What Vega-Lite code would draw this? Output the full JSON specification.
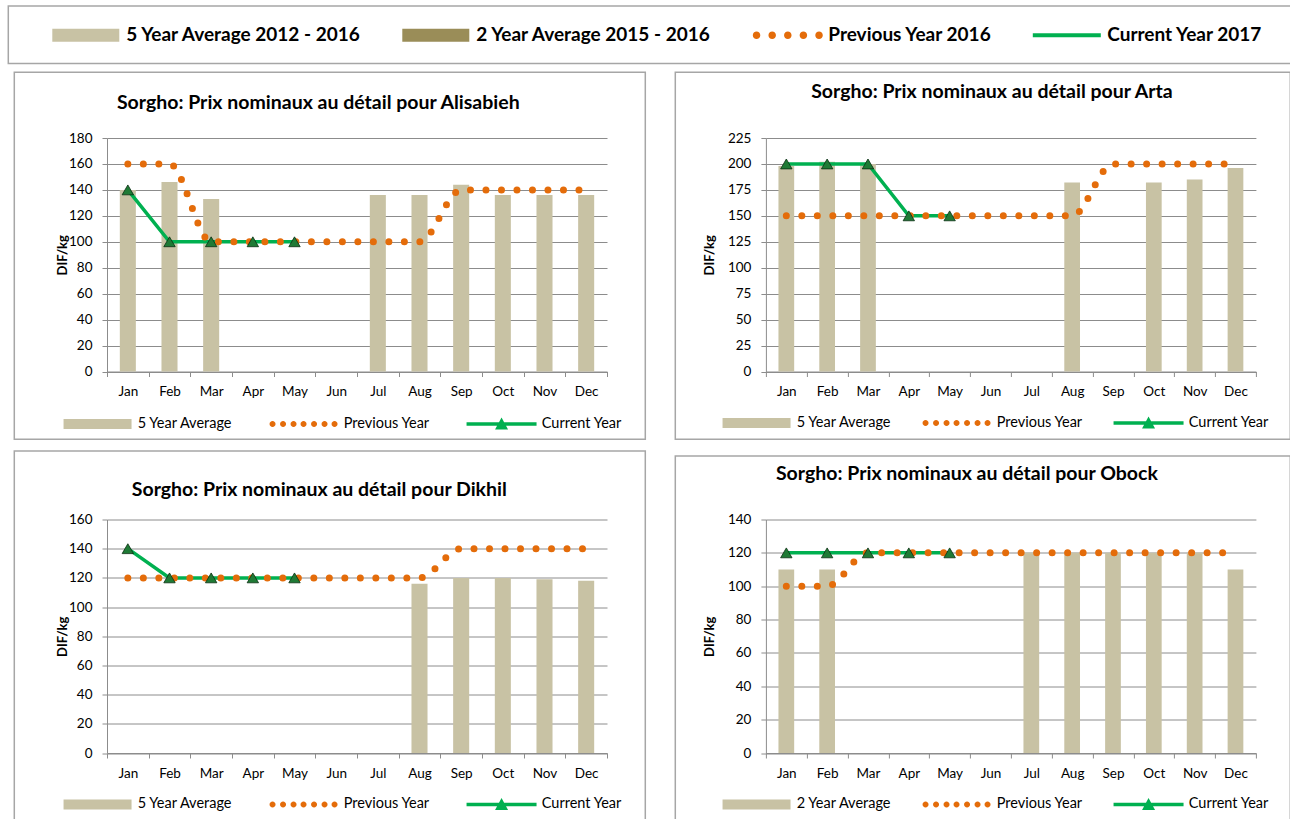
{
  "$schema": "https://vega.github.io/schema/vega-lite/v6.json",
  "autosize": {"type": "pad"},
  "padding": {"left": 3, "top": 1, "right": 0, "bottom": 0},
  "background": "white",
  "config": {
    "view": {"stroke": null},
    "font": "Lato",
    "axis": {"labelFont": "Lato", "labelFontSize": 13.5, "labelColor": "#000000", "titleColor": "#000000", "titleFont": "Lato", "domainColor": "#8C8C8C", "tickColor": "#8C8C8C", "gridColor": "#8C8C8C", "tickSize": 5, "labelOverlap": false},
    "legend": {"labelFont": "Lato", "labelColor": "#000000", "labelLimit": 600, "padding": 0, "symbolStrokeWidth": 0, "symbolOpacity": 1}
  },
  "datasets": {
    "prices": [
      {"region": "Alisabieh", "month": "Jan", "avg": 140, "prev": 160, "cur": 140},
      {"region": "Alisabieh", "month": "Feb", "avg": 146, "prev": 160, "cur": 100},
      {"region": "Alisabieh", "month": "Mar", "avg": 133, "prev": 100, "cur": 100},
      {"region": "Alisabieh", "month": "Apr", "avg": null, "prev": 100, "cur": 100},
      {"region": "Alisabieh", "month": "May", "avg": null, "prev": 100, "cur": 100},
      {"region": "Alisabieh", "month": "Jun", "avg": null, "prev": 100, "cur": null},
      {"region": "Alisabieh", "month": "Jul", "avg": 136, "prev": 100, "cur": null},
      {"region": "Alisabieh", "month": "Aug", "avg": 136, "prev": 100, "cur": null},
      {"region": "Alisabieh", "month": "Sep", "avg": 144, "prev": 140, "cur": null},
      {"region": "Alisabieh", "month": "Oct", "avg": 136, "prev": 140, "cur": null},
      {"region": "Alisabieh", "month": "Nov", "avg": 136, "prev": 140, "cur": null},
      {"region": "Alisabieh", "month": "Dec", "avg": 136, "prev": 140, "cur": null},
      {"region": "Arta", "month": "Jan", "avg": 198, "prev": 150, "cur": 200},
      {"region": "Arta", "month": "Feb", "avg": 202, "prev": 150, "cur": 200},
      {"region": "Arta", "month": "Mar", "avg": 200, "prev": 150, "cur": 200},
      {"region": "Arta", "month": "Apr", "avg": null, "prev": 150, "cur": 150},
      {"region": "Arta", "month": "May", "avg": null, "prev": 150, "cur": 150},
      {"region": "Arta", "month": "Jun", "avg": null, "prev": 150, "cur": null},
      {"region": "Arta", "month": "Jul", "avg": null, "prev": 150, "cur": null},
      {"region": "Arta", "month": "Aug", "avg": 182, "prev": 150, "cur": null},
      {"region": "Arta", "month": "Sep", "avg": null, "prev": 200, "cur": null},
      {"region": "Arta", "month": "Oct", "avg": 182, "prev": 200, "cur": null},
      {"region": "Arta", "month": "Nov", "avg": 185, "prev": 200, "cur": null},
      {"region": "Arta", "month": "Dec", "avg": 196, "prev": 200, "cur": null},
      {"region": "Dikhil", "month": "Jan", "avg": null, "prev": 120, "cur": 140},
      {"region": "Dikhil", "month": "Feb", "avg": null, "prev": 120, "cur": 120},
      {"region": "Dikhil", "month": "Mar", "avg": null, "prev": 120, "cur": 120},
      {"region": "Dikhil", "month": "Apr", "avg": null, "prev": 120, "cur": 120},
      {"region": "Dikhil", "month": "May", "avg": null, "prev": 120, "cur": 120},
      {"region": "Dikhil", "month": "Jun", "avg": null, "prev": 120, "cur": null},
      {"region": "Dikhil", "month": "Jul", "avg": null, "prev": 120, "cur": null},
      {"region": "Dikhil", "month": "Aug", "avg": 116, "prev": 120, "cur": null},
      {"region": "Dikhil", "month": "Sep", "avg": 120, "prev": 140, "cur": null},
      {"region": "Dikhil", "month": "Oct", "avg": 120, "prev": 140, "cur": null},
      {"region": "Dikhil", "month": "Nov", "avg": 119, "prev": 140, "cur": null},
      {"region": "Dikhil", "month": "Dec", "avg": 118, "prev": 140, "cur": null},
      {"region": "Obock", "month": "Jan", "avg": 110, "prev": 100, "cur": 120},
      {"region": "Obock", "month": "Feb", "avg": 110, "prev": 100, "cur": 120},
      {"region": "Obock", "month": "Mar", "avg": null, "prev": 120, "cur": 120},
      {"region": "Obock", "month": "Apr", "avg": null, "prev": 120, "cur": 120},
      {"region": "Obock", "month": "May", "avg": null, "prev": 120, "cur": 120},
      {"region": "Obock", "month": "Jun", "avg": null, "prev": 120, "cur": null},
      {"region": "Obock", "month": "Jul", "avg": 120, "prev": 120, "cur": null},
      {"region": "Obock", "month": "Aug", "avg": 120, "prev": 120, "cur": null},
      {"region": "Obock", "month": "Sep", "avg": 120, "prev": 120, "cur": null},
      {"region": "Obock", "month": "Oct", "avg": 120, "prev": 120, "cur": null},
      {"region": "Obock", "month": "Nov", "avg": 120, "prev": 120, "cur": null},
      {"region": "Obock", "month": "Dec", "avg": 110, "prev": 120, "cur": null}
    ]
  },
  "vconcat": [
    {
      "width": 1, "height": 1,
      "data": {"values": [{"a": 1}]},
      "layer": [
        {
          "mark": {"type": "point", "filled": true, "opacity": 1, "size": 4},
          "transform": [{"filter": "false"}],
          "encoding": {
            "color": {"field": "series", "type": "nominal",
              "scale": {"domain": ["5 Year Average 2012 - 2016", "2 Year Average 2015 - 2016", "Previous Year 2016", "Current Year 2017"], "range": ["#C8C2A4", "#9A8D58", "#E46C0A", "#00B050"]},
              "legend": {"orient": "none", "legendX": -30.7, "legendY": 19.5, "direction": "horizontal", "title": null, "symbolSize": 4, "labelOffset": 31, "columnPadding": 40, "labelFontSize": 19, "labelFontWeight": "bold"}},
            "shape": {"field": "series", "type": "nominal",
              "scale": {"domain": ["5 Year Average 2012 - 2016", "2 Year Average 2015 - 2016", "Previous Year 2016", "Current Year 2017"],
                "range": ["M-33.5,-6.5H33.5V6.5H-33.5Z", "M-33.5,-6.5H33.5V6.5H-33.5Z",
                  "M-35,0a3.75,3.75 0 1,0 7.5,0a3.75,3.75 0 1,0 -7.5,0M-19.35,0a3.75,3.75 0 1,0 7.5,0a3.75,3.75 0 1,0 -7.5,0M-3.75,0a3.75,3.75 0 1,0 7.5,0a3.75,3.75 0 1,0 -7.5,0M11.85,0a3.75,3.75 0 1,0 7.5,0a3.75,3.75 0 1,0 -7.5,0M27.5,0a3.75,3.75 0 1,0 7.5,0a3.75,3.75 0 1,0 -7.5,0",
                  "M-34,-2H34V2H-34Z"]}}
          }
        },
        {
          "mark": {"type": "point", "filled": false, "color": "#A6A6A6", "strokeWidth": 1.5, "opacity": 1, "size": 4},
          "transform": [{"filter": "false"}],
          "encoding": {
            "shape": {"field": "box", "type": "nominal", "scale": {"domain": ["box"], "range": ["M0,0H1300V57.5H0Z"]},
              "legend": {"orient": "none", "legendX": -103.7, "legendY": -5, "title": null, "symbolSize": 4, "labelExpr": "''", "symbolStrokeColor": "#A6A6A6", "symbolFillColor": "transparent", "symbolStrokeWidth": 1.5}}
          }
        }
      ],
      "resolve": {"scale": {"shape": "independent", "color": "independent"}}
    },
    {
      "vconcat": [
        {
          "hconcat": [
            {
              "width": 500, "height": 233.5,
              "title": {"text": "Sorgho: Prix nominaux au détail pour Alisabieh", "frame": "group", "dx": -38.7, "offset": -46, "fontSize": 19.5, "fontWeight": "bold", "font": "Lato", "color": "#000000"},
              "data": {"name": "prices"},
              "transform": [{"filter": "datum.region === 'Alisabieh'"}],
              "encoding": {"x": {"field": "month", "type": "ordinal", "sort": ["Jan","Feb","Mar","Apr","May","Jun","Jul","Aug","Sep","Oct","Nov","Dec"], "scale": {"domain": ["Jan","Feb","Mar","Apr","May","Jun","Jul","Aug","Sep","Oct","Nov","Dec"], "paddingInner": 0, "paddingOuter": 0}, "axis": {"title": null, "grid": false, "tickBand": "extent", "labelAngle": 0, "labelPadding": 8}}},
              "layer": [
                {"mark": {"type": "bar", "width": {"band": 0.385}, "color": "#C8C2A4"}, "transform": [{"filter": "isValid(datum.avg)"}],
                  "encoding": {"y": {"field": "avg", "type": "quantitative", "title": "DIF/kg", "scale": {"domain": [0, 180]}, "axis": {"values": [0,20,40,60,80,100,120,140,160,180], "grid": true, "labelPadding": 10, "titleFontSize": 13, "titleFontWeight": "bold", "titlePadding": -1}}}},
                {"mark": {"type": "line", "color": "#00B050", "strokeWidth": 3.5}, "transform": [{"filter": "isValid(datum.cur)"}],
                  "encoding": {"y": {"field": "cur", "type": "quantitative", "title": "DIF/kg", "scale": {"domain": [0, 180]}, "axis": {"values": [0,20,40,60,80,100,120,140,160,180], "grid": true, "labelPadding": 10, "titleFontSize": 13, "titleFontWeight": "bold", "titlePadding": -1}}}},
                {"mark": {"type": "line", "color": "#E46C0A", "strokeWidth": 7, "strokeDash": [0, 15.5], "strokeCap": "round", "interpolate": "monotone"},
                  "encoding": {"y": {"field": "prev", "type": "quantitative", "title": "DIF/kg", "scale": {"domain": [0, 180]}, "axis": {"values": [0,20,40,60,80,100,120,140,160,180], "grid": true, "labelPadding": 10, "titleFontSize": 13, "titleFontWeight": "bold", "titlePadding": -1}}}},
                {"mark": {"type": "point", "shape": "triangle-up", "size": 130, "filled": true, "fill": "#1F7A35", "stroke": "#0A2E12", "strokeWidth": 0.8, "opacity": 1}, "transform": [{"filter": "isValid(datum.cur)"}],
                  "encoding": {"y": {"field": "cur", "type": "quantitative", "title": "DIF/kg", "scale": {"domain": [0, 180]}, "axis": {"values": [0,20,40,60,80,100,120,140,160,180], "grid": true, "labelPadding": 10, "titleFontSize": 13, "titleFontWeight": "bold", "titlePadding": -1}}}},
                {"mark": {"type": "point", "filled": true, "opacity": 1, "size": 4}, "transform": [{"filter": "false"}],
                  "encoding": {
                    "color": {"field": "series", "type": "nominal", "scale": {"domain": ["5 Year Average", "Previous Year", "Current Year"], "range": ["#C8C2A4", "#E46C0A", "#00B050"]},
                      "legend": {"orient": "none", "legendX": -16.7, "legendY": 278.5, "direction": "horizontal", "title": null, "symbolSize": 4, "labelOffset": 33, "columnPadding": 36, "labelFontSize": 14.5}},
                    "shape": {"field": "series", "type": "nominal", "scale": {"domain": ["5 Year Average", "Previous Year", "Current Year"],
                      "range": ["M-34,-5H34V5H-34Z",
                        "M-34,0a3,3 0 1,0 6,0a3,3 0 1,0 -6,0M-23.5,0a3,3 0 1,0 6,0a3,3 0 1,0 -6,0M-13,0a3,3 0 1,0 6,0a3,3 0 1,0 -6,0M-3,0a3,3 0 1,0 6,0a3,3 0 1,0 -6,0M7.5,0a3,3 0 1,0 6,0a3,3 0 1,0 -6,0M18,0a3,3 0 1,0 6,0a3,3 0 1,0 -6,0M28,0a3,3 0 1,0 6,0a3,3 0 1,0 -6,0",
                        "M-35,-1.75H35V1.75H-35ZM-6.5,5.5L0,-6.5L6.5,5.5Z"]}}
                  }},
                {"mark": {"type": "point", "filled": false, "color": "#A6A6A6", "strokeWidth": 1.5, "opacity": 1, "size": 4}, "transform": [{"filter": "false"}],
                  "encoding": {"shape": {"field": "box", "type": "nominal", "scale": {"domain": ["box"], "range": ["M0,0H631V367H0Z"]},
                    "legend": {"orient": "none", "legendX": -97.7, "legendY": -70.7, "title": null, "symbolSize": 4, "labelExpr": "''", "symbolStrokeColor": "#A6A6A6", "symbolFillColor": "transparent", "symbolStrokeWidth": 1.5}}}}
              ],
              "resolve": {"scale": {"shape": "independent", "color": "independent"}}
            },
            {
              "width": 490, "height": 233.5,
              "title": {"text": "Sorgho: Prix nominaux au détail pour Arta", "frame": "group", "dx": -19, "offset": -35, "fontSize": 19.5, "fontWeight": "bold", "font": "Lato", "color": "#000000"},
              "data": {"name": "prices"},
              "transform": [{"filter": "datum.region === 'Arta'"}],
              "encoding": {"x": {"field": "month", "type": "ordinal", "sort": ["Jan","Feb","Mar","Apr","May","Jun","Jul","Aug","Sep","Oct","Nov","Dec"], "scale": {"domain": ["Jan","Feb","Mar","Apr","May","Jun","Jul","Aug","Sep","Oct","Nov","Dec"], "paddingInner": 0, "paddingOuter": 0}, "axis": {"title": null, "grid": false, "tickBand": "extent", "labelAngle": 0, "labelPadding": 8}}},
              "layer": [
                {"mark": {"type": "bar", "width": {"band": 0.385}, "color": "#C8C2A4"}, "transform": [{"filter": "isValid(datum.avg)"}],
                  "encoding": {"y": {"field": "avg", "type": "quantitative", "title": "DIF/kg", "scale": {"domain": [0, 225]}, "axis": {"values": [0,25,50,75,100,125,150,175,200,225], "grid": true, "labelPadding": 10, "titleFontSize": 13, "titleFontWeight": "bold", "titlePadding": 11}}}},
                {"mark": {"type": "line", "color": "#00B050", "strokeWidth": 3.5}, "transform": [{"filter": "isValid(datum.cur)"}],
                  "encoding": {"y": {"field": "cur", "type": "quantitative", "title": "DIF/kg", "scale": {"domain": [0, 225]}, "axis": {"values": [0,25,50,75,100,125,150,175,200,225], "grid": true, "labelPadding": 10, "titleFontSize": 13, "titleFontWeight": "bold", "titlePadding": 11}}}},
                {"mark": {"type": "line", "color": "#E46C0A", "strokeWidth": 7, "strokeDash": [0, 15.5], "strokeCap": "round", "interpolate": "monotone"},
                  "encoding": {"y": {"field": "prev", "type": "quantitative", "title": "DIF/kg", "scale": {"domain": [0, 225]}, "axis": {"values": [0,25,50,75,100,125,150,175,200,225], "grid": true, "labelPadding": 10, "titleFontSize": 13, "titleFontWeight": "bold", "titlePadding": 11}}}},
                {"mark": {"type": "point", "shape": "triangle-up", "size": 130, "filled": true, "fill": "#1F7A35", "stroke": "#0A2E12", "strokeWidth": 0.8, "opacity": 1}, "transform": [{"filter": "isValid(datum.cur)"}],
                  "encoding": {"y": {"field": "cur", "type": "quantitative", "title": "DIF/kg", "scale": {"domain": [0, 225]}, "axis": {"values": [0,25,50,75,100,125,150,175,200,225], "grid": true, "labelPadding": 10, "titleFontSize": 13, "titleFontWeight": "bold", "titlePadding": 11}}}},
                {"mark": {"type": "point", "filled": true, "opacity": 1, "size": 4}, "transform": [{"filter": "false"}],
                  "encoding": {
                    "color": {"field": "series", "type": "nominal", "scale": {"domain": ["5 Year Average", "Previous Year", "Current Year"], "range": ["#C8C2A4", "#E46C0A", "#00B050"]},
                      "legend": {"orient": "none", "legendX": -16.6, "legendY": 277.5, "direction": "horizontal", "title": null, "symbolSize": 4, "labelOffset": 33, "columnPadding": 30, "labelFontSize": 14.5}},
                    "shape": {"field": "series", "type": "nominal", "scale": {"domain": ["5 Year Average", "Previous Year", "Current Year"],
                      "range": ["M-34,-5H34V5H-34Z",
                        "M-34,0a3,3 0 1,0 6,0a3,3 0 1,0 -6,0M-23.5,0a3,3 0 1,0 6,0a3,3 0 1,0 -6,0M-13,0a3,3 0 1,0 6,0a3,3 0 1,0 -6,0M-3,0a3,3 0 1,0 6,0a3,3 0 1,0 -6,0M7.5,0a3,3 0 1,0 6,0a3,3 0 1,0 -6,0M18,0a3,3 0 1,0 6,0a3,3 0 1,0 -6,0M28,0a3,3 0 1,0 6,0a3,3 0 1,0 -6,0",
                        "M-35,-1.75H35V1.75H-35ZM-6.5,5.5L0,-6.5L6.5,5.5Z"]}}
                  }},
                {"mark": {"type": "point", "filled": false, "color": "#A6A6A6", "strokeWidth": 1.5, "opacity": 1, "size": 4}, "transform": [{"filter": "false"}],
                  "encoding": {"shape": {"field": "box", "type": "nominal", "scale": {"domain": ["box"], "range": ["M0,0H615V367H0Z"]},
                    "legend": {"orient": "none", "legendX": -95.6, "legendY": -70.7, "title": null, "symbolSize": 4, "labelExpr": "''", "symbolStrokeColor": "#A6A6A6", "symbolFillColor": "transparent", "symbolStrokeWidth": 1.5}}}}
              ],
              "resolve": {"scale": {"shape": "independent", "color": "independent"}}
            }
          ],
          "spacing": 158.9,
          "bounds": "flush"
        },
        {
          "hconcat": [
            {
              "width": 500, "height": 233.5,
              "title": {"text": "Sorgho: Prix nominaux au détail pour Dikhil", "frame": "group", "dx": -37.7, "offset": -54.5, "fontSize": 19.5, "fontWeight": "bold", "font": "Lato", "color": "#000000"},
              "data": {"name": "prices"},
              "transform": [{"filter": "datum.region === 'Dikhil'"}],
              "encoding": {"x": {"field": "month", "type": "ordinal", "sort": ["Jan","Feb","Mar","Apr","May","Jun","Jul","Aug","Sep","Oct","Nov","Dec"], "scale": {"domain": ["Jan","Feb","Mar","Apr","May","Jun","Jul","Aug","Sep","Oct","Nov","Dec"], "paddingInner": 0, "paddingOuter": 0}, "axis": {"title": null, "grid": false, "tickBand": "extent", "labelAngle": 0, "labelPadding": 8}}},
              "layer": [
                {"mark": {"type": "bar", "width": {"band": 0.385}, "color": "#C8C2A4"}, "transform": [{"filter": "isValid(datum.avg)"}],
                  "encoding": {"y": {"field": "avg", "type": "quantitative", "title": "DIF/kg", "scale": {"domain": [0, 160]}, "axis": {"values": [0,20,40,60,80,100,120,140,160], "grid": true, "labelPadding": 10, "titleFontSize": 13, "titleFontWeight": "bold", "titlePadding": -1}}}},
                {"mark": {"type": "line", "color": "#00B050", "strokeWidth": 3.5}, "transform": [{"filter": "isValid(datum.cur)"}],
                  "encoding": {"y": {"field": "cur", "type": "quantitative", "title": "DIF/kg", "scale": {"domain": [0, 160]}, "axis": {"values": [0,20,40,60,80,100,120,140,160], "grid": true, "labelPadding": 10, "titleFontSize": 13, "titleFontWeight": "bold", "titlePadding": -1}}}},
                {"mark": {"type": "line", "color": "#E46C0A", "strokeWidth": 7, "strokeDash": [0, 15.5], "strokeCap": "round", "interpolate": "monotone"},
                  "encoding": {"y": {"field": "prev", "type": "quantitative", "title": "DIF/kg", "scale": {"domain": [0, 160]}, "axis": {"values": [0,20,40,60,80,100,120,140,160], "grid": true, "labelPadding": 10, "titleFontSize": 13, "titleFontWeight": "bold", "titlePadding": -1}}}},
                {"mark": {"type": "point", "shape": "triangle-up", "size": 130, "filled": true, "fill": "#1F7A35", "stroke": "#0A2E12", "strokeWidth": 0.8, "opacity": 1}, "transform": [{"filter": "isValid(datum.cur)"}],
                  "encoding": {"y": {"field": "cur", "type": "quantitative", "title": "DIF/kg", "scale": {"domain": [0, 160]}, "axis": {"values": [0,20,40,60,80,100,120,140,160], "grid": true, "labelPadding": 10, "titleFontSize": 13, "titleFontWeight": "bold", "titlePadding": -1}}}},
                {"mark": {"type": "point", "filled": true, "opacity": 1, "size": 4}, "transform": [{"filter": "false"}],
                  "encoding": {
                    "color": {"field": "series", "type": "nominal", "scale": {"domain": ["5 Year Average", "Previous Year", "Current Year"], "range": ["#C8C2A4", "#E46C0A", "#00B050"]},
                      "legend": {"orient": "none", "legendX": -16.7, "legendY": 277.5, "direction": "horizontal", "title": null, "symbolSize": 4, "labelOffset": 33, "columnPadding": 36, "labelFontSize": 14.5}},
                    "shape": {"field": "series", "type": "nominal", "scale": {"domain": ["5 Year Average", "Previous Year", "Current Year"],
                      "range": ["M-34,-5H34V5H-34Z",
                        "M-34,0a3,3 0 1,0 6,0a3,3 0 1,0 -6,0M-23.5,0a3,3 0 1,0 6,0a3,3 0 1,0 -6,0M-13,0a3,3 0 1,0 6,0a3,3 0 1,0 -6,0M-3,0a3,3 0 1,0 6,0a3,3 0 1,0 -6,0M7.5,0a3,3 0 1,0 6,0a3,3 0 1,0 -6,0M18,0a3,3 0 1,0 6,0a3,3 0 1,0 -6,0M28,0a3,3 0 1,0 6,0a3,3 0 1,0 -6,0",
                        "M-35,-1.75H35V1.75H-35ZM-6.5,5.5L0,-6.5L6.5,5.5Z"]}}
                  }},
                {"mark": {"type": "point", "filled": false, "color": "#A6A6A6", "strokeWidth": 1.5, "opacity": 1, "size": 4}, "transform": [{"filter": "false"}],
                  "encoding": {"shape": {"field": "box", "type": "nominal", "scale": {"domain": ["box"], "range": ["M0,0H631V372H0Z"]},
                    "legend": {"orient": "none", "legendX": -97.7, "legendY": -73.5, "title": null, "symbolSize": 4, "labelExpr": "''", "symbolStrokeColor": "#A6A6A6", "symbolFillColor": "transparent", "symbolStrokeWidth": 1.5}}}}
              ],
              "resolve": {"scale": {"shape": "independent", "color": "independent"}}
            },
            {
              "width": 490, "height": 233.5,
              "title": {"text": "Sorgho: Prix nominaux au détail pour Obock", "frame": "group", "dx": -44, "offset": -33.5, "fontSize": 19.5, "fontWeight": "bold", "font": "Lato", "color": "#000000"},
              "data": {"name": "prices"},
              "transform": [{"filter": "datum.region === 'Obock'"}],
              "encoding": {"x": {"field": "month", "type": "ordinal", "sort": ["Jan","Feb","Mar","Apr","May","Jun","Jul","Aug","Sep","Oct","Nov","Dec"], "scale": {"domain": ["Jan","Feb","Mar","Apr","May","Jun","Jul","Aug","Sep","Oct","Nov","Dec"], "paddingInner": 0, "paddingOuter": 0}, "axis": {"title": null, "grid": false, "tickBand": "extent", "labelAngle": 0, "labelPadding": 8}}},
              "layer": [
                {"mark": {"type": "bar", "width": {"band": 0.385}, "color": "#C8C2A4"}, "transform": [{"filter": "isValid(datum.avg)"}],
                  "encoding": {"y": {"field": "avg", "type": "quantitative", "title": "DIF/kg", "scale": {"domain": [0, 140]}, "axis": {"values": [0,20,40,60,80,100,120,140], "grid": true, "labelPadding": 10, "titleFontSize": 13, "titleFontWeight": "bold", "titlePadding": 11}}}},
                {"mark": {"type": "line", "color": "#00B050", "strokeWidth": 3.5}, "transform": [{"filter": "isValid(datum.cur)"}],
                  "encoding": {"y": {"field": "cur", "type": "quantitative", "title": "DIF/kg", "scale": {"domain": [0, 140]}, "axis": {"values": [0,20,40,60,80,100,120,140], "grid": true, "labelPadding": 10, "titleFontSize": 13, "titleFontWeight": "bold", "titlePadding": 11}}}},
                {"mark": {"type": "line", "color": "#E46C0A", "strokeWidth": 7, "strokeDash": [0, 15.5], "strokeCap": "round", "interpolate": "monotone"},
                  "encoding": {"y": {"field": "prev", "type": "quantitative", "title": "DIF/kg", "scale": {"domain": [0, 140]}, "axis": {"values": [0,20,40,60,80,100,120,140], "grid": true, "labelPadding": 10, "titleFontSize": 13, "titleFontWeight": "bold", "titlePadding": 11}}}},
                {"mark": {"type": "point", "shape": "triangle-up", "size": 130, "filled": true, "fill": "#1F7A35", "stroke": "#0A2E12", "strokeWidth": 0.8, "opacity": 1}, "transform": [{"filter": "isValid(datum.cur)"}],
                  "encoding": {"y": {"field": "cur", "type": "quantitative", "title": "DIF/kg", "scale": {"domain": [0, 140]}, "axis": {"values": [0,20,40,60,80,100,120,140], "grid": true, "labelPadding": 10, "titleFontSize": 13, "titleFontWeight": "bold", "titlePadding": 11}}}},
                {"mark": {"type": "point", "filled": true, "opacity": 1, "size": 4}, "transform": [{"filter": "false"}],
                  "encoding": {
                    "color": {"field": "series", "type": "nominal", "scale": {"domain": ["2 Year Average", "Previous Year", "Current Year"], "range": ["#C8C2A4", "#E46C0A", "#00B050"]},
                      "legend": {"orient": "none", "legendX": -16.6, "legendY": 277.5, "direction": "horizontal", "title": null, "symbolSize": 4, "labelOffset": 33, "columnPadding": 30, "labelFontSize": 14.5}},
                    "shape": {"field": "series", "type": "nominal", "scale": {"domain": ["2 Year Average", "Previous Year", "Current Year"],
                      "range": ["M-34,-5H34V5H-34Z",
                        "M-34,0a3,3 0 1,0 6,0a3,3 0 1,0 -6,0M-23.5,0a3,3 0 1,0 6,0a3,3 0 1,0 -6,0M-13,0a3,3 0 1,0 6,0a3,3 0 1,0 -6,0M-3,0a3,3 0 1,0 6,0a3,3 0 1,0 -6,0M7.5,0a3,3 0 1,0 6,0a3,3 0 1,0 -6,0M18,0a3,3 0 1,0 6,0a3,3 0 1,0 -6,0M28,0a3,3 0 1,0 6,0a3,3 0 1,0 -6,0",
                        "M-35,-1.75H35V1.75H-35ZM-6.5,5.5L0,-6.5L6.5,5.5Z"]}}
                  }},
                {"mark": {"type": "point", "filled": false, "color": "#A6A6A6", "strokeWidth": 1.5, "opacity": 1, "size": 4}, "transform": [{"filter": "false"}],
                  "encoding": {"shape": {"field": "box", "type": "nominal", "scale": {"domain": ["box"], "range": ["M0,0H615V367H0Z"]},
                    "legend": {"orient": "none", "legendX": -95.6, "legendY": -68.5, "title": null, "symbolSize": 4, "labelExpr": "''", "symbolStrokeColor": "#A6A6A6", "symbolFillColor": "transparent", "symbolStrokeWidth": 1.5}}}}
              ],
              "resolve": {"scale": {"shape": "independent", "color": "independent"}}
            }
          ],
          "spacing": 158.9,
          "bounds": "flush"
        }
      ],
      "spacing": 381.5,
      "bounds": "flush"
    }
  ],
  "spacing": 131,
  "bounds": "flush"
}
